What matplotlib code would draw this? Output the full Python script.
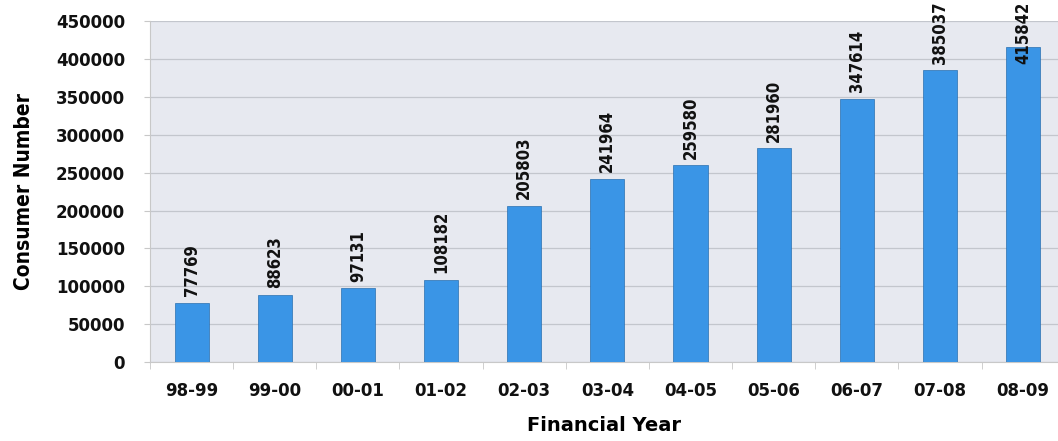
import matplotlib.pyplot as plt
from matplotlib.ticker import MultipleLocator

years = ["98-99", "99-00", "00-01", "01-02", "02-03", "03-04",
         "04-05", "05-06", "06-07", "07-08", "08-09"]
consumers = [77769, 88623, 97131, 108182, 205803, 241964,
             259580, 281960, 347614, 385037, 415842]

bar_color = "#3a95e6"
plot_bg = "#e7e9f0"

fig = plt.figure(figsize=(10.58, 4.41), dpi=100)
ax = fig.add_axes([0.1418, 0.179, 0.8582, 0.773])
ax.set_facecolor(plot_bg)

positions = list(range(len(years)))
ax.bar(positions, consumers, width=0.41, color=bar_color,
       edgecolor="#2a6fb0", linewidth=0.5, zorder=3)

ax.set_xlim(-0.5, 10.42)
ax.set_ylim(0, 450000)
top_limit = 476000

# value labels above the bars, kept inside the figure
for x, v in zip(positions, consumers):
    y = v + 9000
    va = "bottom"
    if y + 72000 > top_limit:
        y = top_limit
        va = "top"
    ax.text(x, y, str(v), rotation=90, ha="center", va=va,
            fontstretch="condensed", fontweight="bold", fontsize=12,
            color="#111111", clip_on=False, zorder=4)

ax.yaxis.set_major_locator(MultipleLocator(50000))
ax.grid(axis="y", color="#c3c6cd", linewidth=0.9, zorder=1)
ax.set_axisbelow(True)

ax.set_xticks(positions)
ax.set_xticklabels(years)
ax.set_xticks([p + 0.5 for p in positions[:-1]] + [-0.5], minor=True)
ax.tick_params(axis="x", which="major", length=0, pad=14)
ax.tick_params(axis="x", which="minor", length=5, color="#c8c8c8")
ax.tick_params(axis="y", length=4, color="#c8c8c8", pad=14)

for lbl in ax.get_xticklabels() + ax.get_yticklabels():
    lbl.set_fontweight("bold")
    lbl.set_fontsize(12)
    lbl.set_color("#111111")

for side in ["top", "right"]:
    ax.spines[side].set_visible(False)
ax.spines["left"].set_color("#c8c8c8")
ax.spines["bottom"].set_color("#c8c8c8")

ax.set_xlabel("Financial Year", fontsize=14, fontweight="bold", labelpad=12)
ax.set_ylabel("Consumer Number", fontstretch="condensed", fontsize=15,
              fontweight="bold", labelpad=16)

fig.savefig("out.png", dpi=100, facecolor="white")
